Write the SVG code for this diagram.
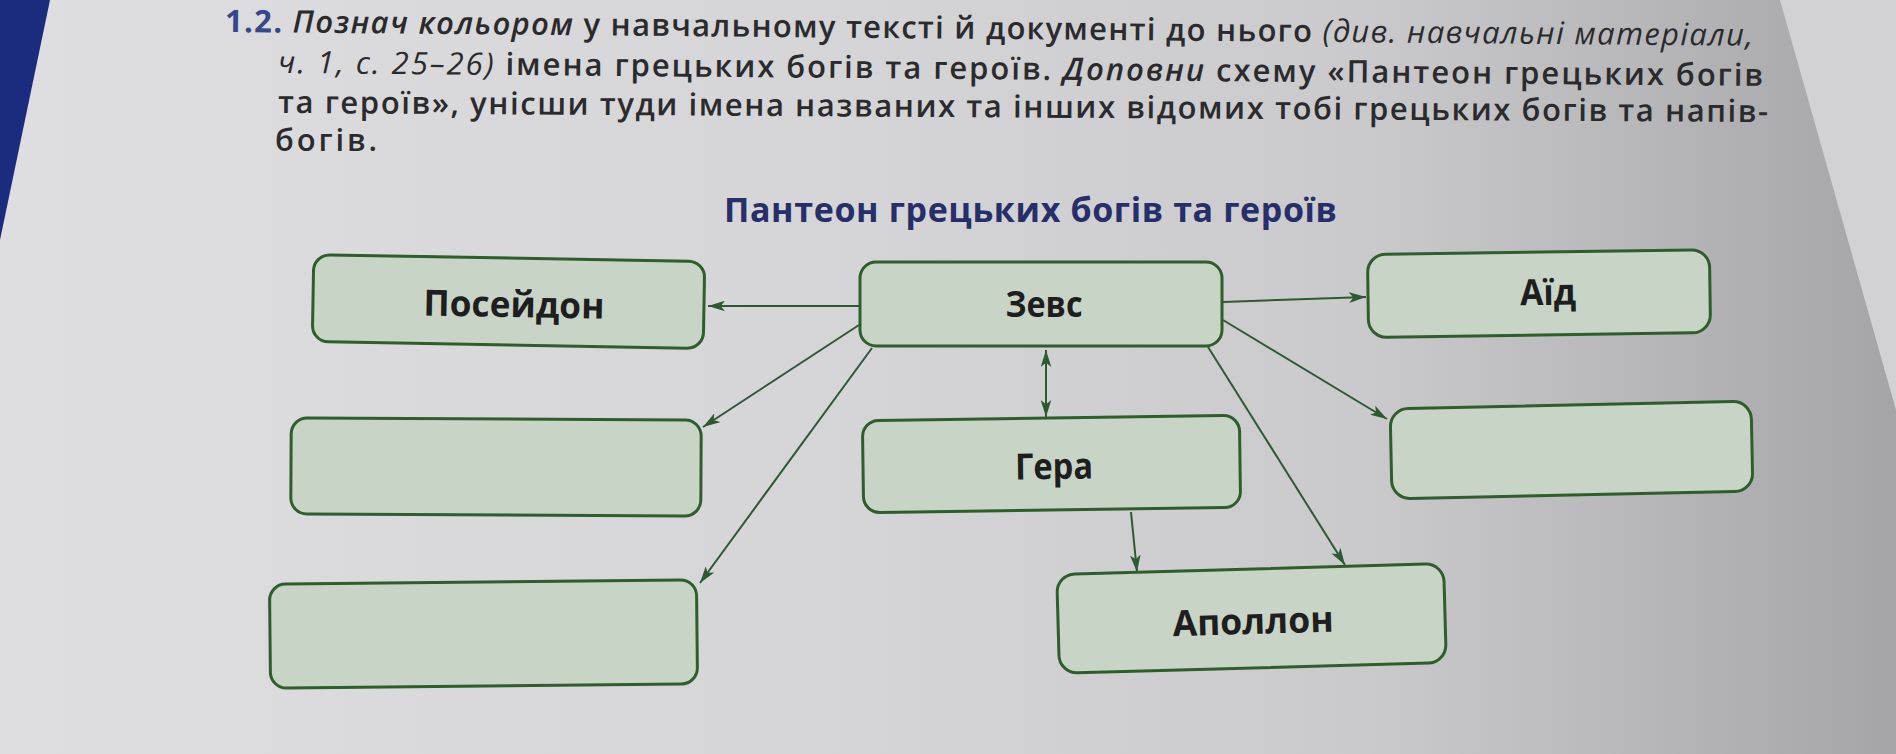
<svg xmlns="http://www.w3.org/2000/svg" width="1896" height="754" viewBox="0 0 1896 754">
  <defs>
    <linearGradient id="page" x1="0" y1="0" x2="1" y2="0">
      <stop offset="0" stop-color="#dedee0"/>
      <stop offset="0.45" stop-color="#d5d5d7"/>
      <stop offset="0.72" stop-color="#cacacc"/>
      <stop offset="0.86" stop-color="#b8b8ba"/>
      <stop offset="1" stop-color="#a5a5a7"/>
    </linearGradient>
    <marker id="arr" viewBox="0 0 16 10" refX="16" refY="5" markerWidth="17" markerHeight="11" markerUnits="userSpaceOnUse" orient="auto-start-reverse">
      <path d="M0,0 L16,5 L0,10 L4,5 z" fill="#2d5a30"/>
    </marker>
    <style>
      .hdr { font-family: "Open Sans", "Noto Sans", sans-serif; font-size: 31px; font-weight: 600; fill: #2b2b2d; }
      .it { font-style: italic; }
      .lt { font-weight: 400; }
      .num { font-weight: 700; fill: #34478a; }
      .title { font-family: "Open Sans", "Noto Sans", sans-serif; font-size: 34px; font-weight: 700; fill: #262f6a; }
      .box { fill: #c8d5c6; stroke: #2f5e2c; stroke-width: 3; }
      .lbl { font-family: "Open Sans", "Noto Sans", sans-serif; font-size: 36px; font-weight: 700; fill: #1e1e1e; text-anchor: middle; }
      .con { fill: none; stroke: #2d5a30; stroke-width: 2; marker-end: url(#arr); }
    </style>
  </defs>

  <!-- background (photo of page) -->
  <rect x="0" y="0" width="1896" height="754" fill="url(#page)"/>
  <polygon points="1780,0 1896,0 1896,410" fill="#d2d2d4"/>
  <polygon points="0,0 50,0 0,240" fill="#1b2b7e"/>

  <!-- header text -->
  <text class="hdr" x="225" y="32" textLength="1528" lengthAdjust="spacing" transform="rotate(0.52 225 32)"><tspan class="num">1.2.</tspan> <tspan class="it">Познач кольором</tspan> у навчальному тексті й документі до нього <tspan class="it lt">(див. навчальні матеріали,</tspan></text>
  <text class="hdr" x="278" y="73" textLength="1485" lengthAdjust="spacing" transform="rotate(0.5 278 73)"><tspan class="it lt">ч. 1, с. 25–26)</tspan> імена грецьких богів та героїв. <tspan class="it">Доповни</tspan> схему «Пантеон грецьких богів</text>
  <text class="hdr" x="278" y="113" textLength="1490" lengthAdjust="spacing" transform="rotate(0.35 278 113)">та героїв», унісши туди імена названих та інших відомих тобі грецьких богів та напів-</text>
  <text class="hdr" x="275" y="151" textLength="102" lengthAdjust="spacing">богів.</text>

  <!-- title -->
  <text class="title" x="724" y="222" textLength="613" lengthAdjust="spacing">Пантеон грецьких богів та героїв</text>

  <!-- connectors -->
  <g id="connectors">
    <line class="con" x1="859" y1="306" x2="708" y2="306"/>
    <line class="con" x1="859" y1="325" x2="703" y2="427"/>
    <line class="con" x1="872" y1="348" x2="700" y2="583"/>
    <line class="con" x1="1046" y1="350" x2="1046" y2="417" style="marker-start:url(#arr)"/>
    <line class="con" x1="1223" y1="302" x2="1366" y2="297"/>
    <line class="con" x1="1223" y1="320" x2="1387" y2="419"/>
    <line class="con" x1="1208" y1="347" x2="1345" y2="565"/>
    <line class="con" x1="1131" y1="512" x2="1137" y2="572"/>
  </g>

  <!-- nodes -->
  <g id="poseidon" transform="rotate(1 508 302)">
    <rect class="box" x="313" y="258" width="391" height="87" rx="16"/>
    <text class="lbl" x="514" y="317" textLength="181" lengthAdjust="spacingAndGlyphs">Посейдон</text>
  </g>
  <g id="zeus">
    <rect class="box" x="860" y="262" width="362" height="84" rx="16"/>
    <text class="lbl" x="1044" y="317" textLength="77" lengthAdjust="spacingAndGlyphs">Зевс</text>
  </g>
  <g id="aid" transform="rotate(-0.8 1540 293)">
    <rect class="box" x="1368" y="252" width="342" height="83" rx="18"/>
    <text class="lbl" x="1548" y="305" textLength="56" lengthAdjust="spacingAndGlyphs">Аїд</text>
  </g>
  <g id="empty-left-1" transform="rotate(0.3 496 467)">
    <rect class="box" x="291" y="419" width="410" height="96" rx="16"/>
  </g>
  <g id="hera" transform="rotate(-0.8 1052 464)">
    <rect class="box" x="863" y="418" width="377" height="92" rx="16"/>
    <text class="lbl" x="1054" y="479" textLength="78" lengthAdjust="spacingAndGlyphs">Гера</text>
  </g>
  <g id="empty-right" transform="rotate(-1.2 1571 450)">
    <rect class="box" x="1391" y="405" width="361" height="90" rx="18"/>
  </g>
  <g id="empty-left-2" transform="rotate(-0.6 483 634)">
    <rect class="box" x="270" y="582" width="427" height="104" rx="16"/>
  </g>
  <g id="apollo" transform="rotate(-1.6 1251 618)">
    <rect class="box" x="1058" y="569" width="387" height="99" rx="18"/>
    <text class="lbl" x="1253" y="634" textLength="161" lengthAdjust="spacingAndGlyphs">Аполлон</text>
  </g>
</svg>
